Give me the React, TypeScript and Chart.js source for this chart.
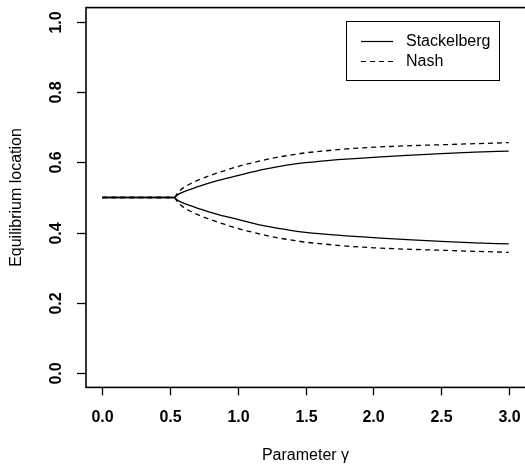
import React, { useEffect, useRef } from "react";
import { Chart, registerables } from "chart.js";

Chart.register(...registerables);

const gamma = [0, 0.25, 0.5, 0.53, 0.56, 0.6, 0.65, 0.7, 0.8, 0.9, 1.0, 1.1, 1.2, 1.3, 1.4, 1.5, 1.6, 1.8, 2.0, 2.25, 2.5, 2.75, 3.0];
const stackUpper = [0.5, 0.5, 0.5, 0.5, 0.509, 0.516, 0.523, 0.53, 0.542, 0.553, 0.562, 0.572, 0.581, 0.588, 0.594, 0.599, 0.603, 0.609, 0.614, 0.62, 0.625, 0.629, 0.632];
const stackLower = [0.5, 0.5, 0.5, 0.5, 0.491, 0.484, 0.477, 0.47, 0.458, 0.447, 0.438, 0.428, 0.419, 0.412, 0.406, 0.401, 0.397, 0.391, 0.386, 0.38, 0.375, 0.371, 0.368];
const nashUpper = [0.5, 0.5, 0.5, 0.5, 0.515, 0.528, 0.539, 0.548, 0.563, 0.576, 0.588, 0.598, 0.607, 0.615, 0.621, 0.627, 0.631, 0.638, 0.643, 0.647, 0.65, 0.653, 0.656];
const nashLower = [0.5, 0.5, 0.5, 0.5, 0.485, 0.472, 0.461, 0.452, 0.437, 0.424, 0.412, 0.402, 0.393, 0.385, 0.379, 0.373, 0.369, 0.362, 0.357, 0.353, 0.35, 0.347, 0.344];

const xTicks = [0, 0.5, 1.0, 1.5, 2.0, 2.5, 3.0];
const yTicks = [0, 0.2, 0.4, 0.6, 0.8, 1.0];
const legendLabels = ["Stackelberg", "Nash"];
const xTitle = "Parameter \u03b3";
const yTitle = "Equilibrium location";

const FONT = '"Liberation Sans", Arial, Helvetica, sans-serif';

const rAxesPlugin = {
  id: "rAxes",
  afterDraw(chart: any) {
    const { ctx, chartArea, scales } = chart;
    const xs = scales.x;
    const ys = scales.y;
    ctx.save();
    ctx.strokeStyle = "#000";
    ctx.fillStyle = "#000";
    // box
    ctx.lineWidth = 1.6;
    ctx.strokeRect(chartArea.left, chartArea.top, chartArea.right - chartArea.left + 2, chartArea.bottom - chartArea.top);
    // x ticks
    ctx.lineWidth = 1.3;
    ctx.font = "bold 16px " + FONT;
    ctx.textAlign = "center";
    ctx.textBaseline = "middle";
    xTicks.forEach((v) => {
      const px = Math.round(xs.getPixelForValue(v)) + 0.5;
      ctx.beginPath();
      ctx.moveTo(px, chartArea.bottom);
      ctx.lineTo(px, chartArea.bottom + 8);
      ctx.stroke();
      ctx.fillText(v.toFixed(1), px, 418);
    });
    // y ticks
    yTicks.forEach((v) => {
      const py = Math.round(ys.getPixelForValue(v)) + 0.5;
      ctx.beginPath();
      ctx.moveTo(chartArea.left, py);
      ctx.lineTo(chartArea.left - 9, py);
      ctx.stroke();
      ctx.save();
      ctx.translate(57, py);
      ctx.rotate(-Math.PI / 2);
      ctx.fillText(v.toFixed(1), 0, 0);
      ctx.restore();
    });
    // titles
    ctx.font = "16px " + FONT;
    ctx.fillText(xTitle, (chartArea.left + chartArea.right) / 2, 456);
    ctx.save();
    ctx.translate(17, (chartArea.top + chartArea.bottom) / 2);
    ctx.rotate(-Math.PI / 2);
    ctx.fillText(yTitle, 0, 0);
    ctx.restore();
    // legend
    ctx.lineWidth = 1;
    ctx.strokeRect(346.5, 21.5, 153, 59);
    ctx.font = "16px " + FONT;
    ctx.textAlign = "left";
    ctx.lineWidth = 1.2;
    const ly = [41.5, 61.5];
    legendLabels.forEach((lab, i) => {
      ctx.setLineDash(i === 0 ? [] : [5, 4]);
      ctx.beginPath();
      ctx.moveTo(361, ly[i]);
      ctx.lineTo(393, ly[i]);
      ctx.stroke();
      ctx.setLineDash([]);
      ctx.fillText(lab, 406, ly[i]);
    });
    ctx.restore();
  },
};

export default function App() {
  const ref = useRef<HTMLCanvasElement | null>(null);
  useEffect(() => {
    if (!ref.current) return;
    const mk = (ys: number[]) => gamma.map((g, i) => ({ x: g, y: ys[i] }));
    const base = {
      borderColor: "#000",
      backgroundColor: "#000",
      pointRadius: 0,
      borderWidth: 1.3,
      fill: false,
      cubicInterpolationMode: "monotone" as const,
    };
    const chart = new Chart(ref.current, {
      type: "line",
      data: {
        datasets: [
          { ...base, label: "Nash", data: mk(nashUpper), borderDash: [5, 4] },
          { ...base, label: "Nash lower", data: mk(nashLower), borderDash: [5, 4] },
          { ...base, label: "Stackelberg", data: mk(stackUpper) },
          { ...base, label: "Stackelberg lower", data: mk(stackLower) },
        ],
      },
      options: {
        animation: false,
        responsive: false,
        layout: { padding: { left: 86, right: 0, top: 7.6, bottom: 86.6 } },
        plugins: { legend: { display: false }, tooltip: { enabled: false } },
        scales: {
          x: { type: "linear", min: -0.12, max: 3.12, display: false },
          y: { type: "linear", min: -0.04, max: 1.04, display: false },
        },
      },
      plugins: [rAxesPlugin],
    });
    return () => chart.destroy();
  }, []);
  return (
    <div style={{ position: "fixed", left: 0, top: 0, width: 525, height: 474, background: "#fff" }}>
      <canvas ref={ref} width={525} height={474} style={{ display: "block" }} />
    </div>
  );
}
